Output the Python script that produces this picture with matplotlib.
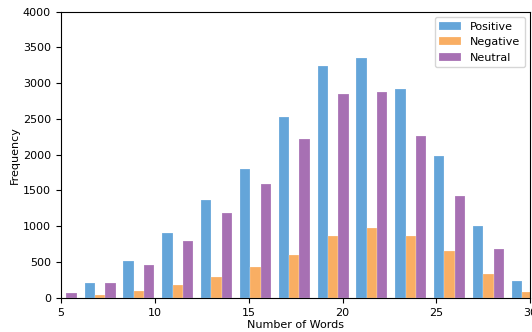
import numpy as np
import matplotlib
matplotlib.use('Agg')
import matplotlib.pyplot as plt

# bin edges of the histogram (word counts)
edges = np.linspace(4, 4 + 13 * 31 / 15, 14)
centers = (edges[:-1] + edges[1:]) / 2

# counts per bin
positive = [0, 205, 509, 900, 1362, 1796, 2523, 3240, 3357, 2919, 1982, 998, 238]
negative = [0, 38, 89, 173, 290, 429, 597, 863, 979, 863, 657, 327, 75]
neutral = [62, 200, 457, 789, 1180, 1594, 2224, 2845, 2881, 2262, 1422, 677, 150]

labels = ['Positive', 'Negative', 'Neutral']
colors = ['#64a5d9', '#f9ae63', '#a770b3']

fig = plt.figure(figsize=(5.32, 3.32), dpi=100)
ax = fig.add_axes([0.114, 0.103, 0.883, 0.862])

ax.hist([centers, centers, centers], bins=edges,
        weights=[positive, negative, neutral],
        color=colors, label=labels, edgecolor='#ffffff80', linewidth=0.3)

ax.set_xlim(5, 30)
ax.set_ylim(0, 4000)
ax.set_xlabel('Number of Words', fontsize=8, labelpad=2)
ax.set_ylabel('Frequency', fontsize=8, labelpad=2)
ax.tick_params(labelsize=8)
ax.legend(loc='upper right', fontsize=8)

plt.savefig('out.png', dpi=100)
